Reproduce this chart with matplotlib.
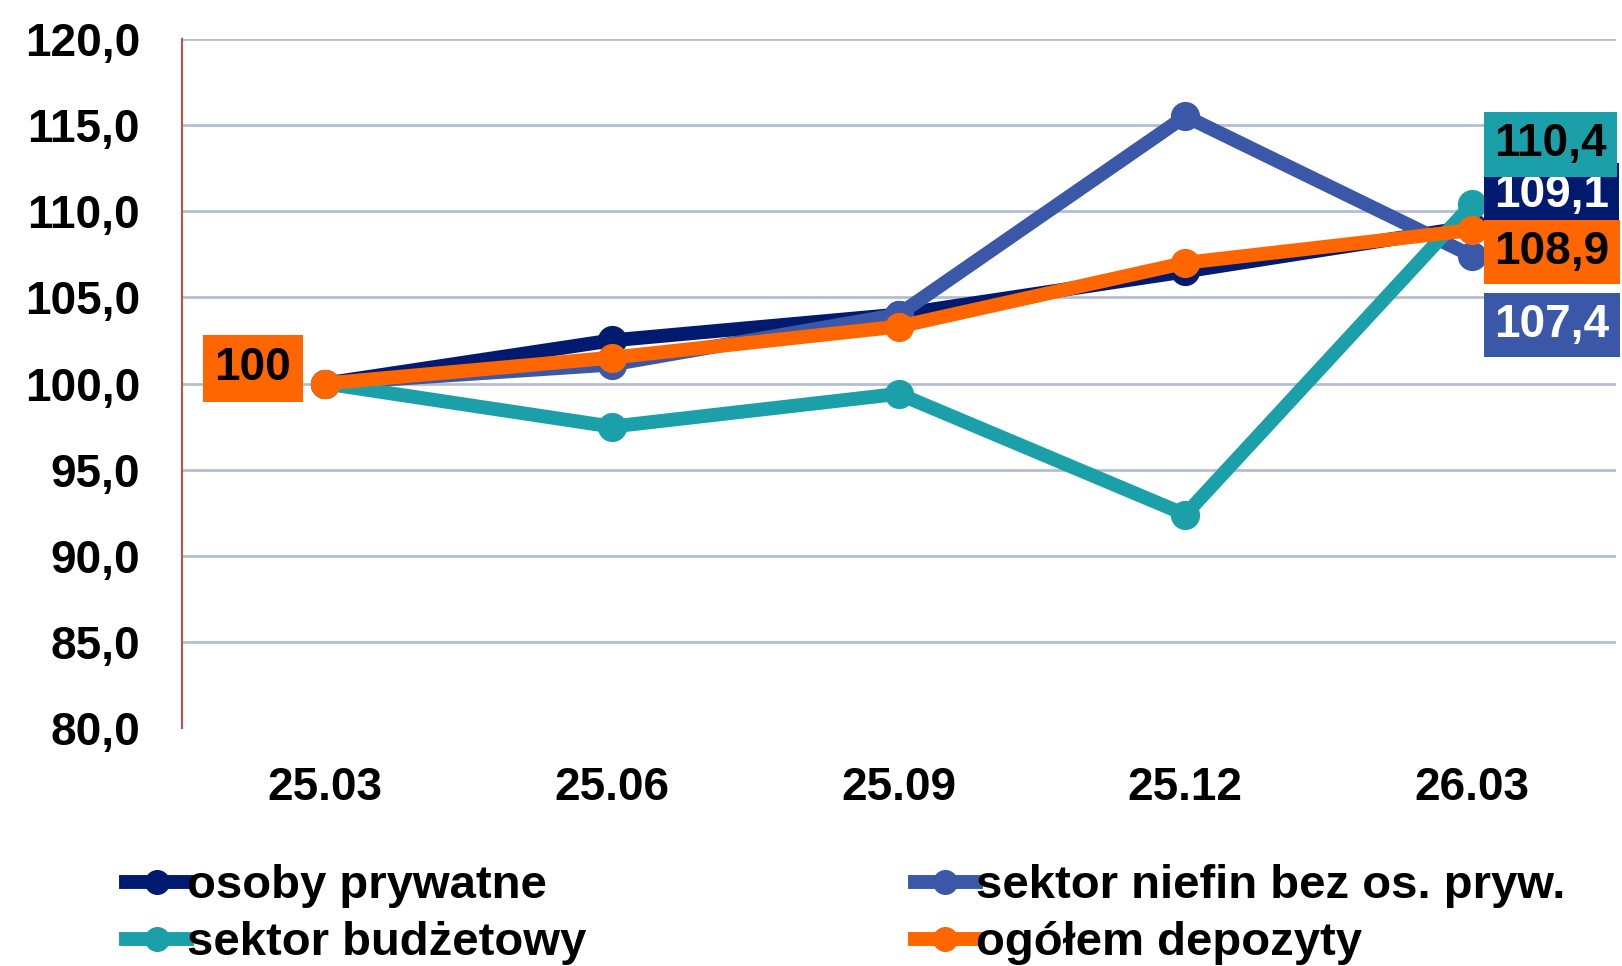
import matplotlib
matplotlib.use("Agg")
import matplotlib.pyplot as plt
import numpy as np

plt.rcParams["font.family"] = ["Liberation Sans", "DejaVu Sans"]
plt.rcParams["font.weight"] = "bold"

categories = ["25.03", "25.06", "25.09", "25.12", "26.03"]
osoby_prywatne = [100.0, 102.5, 104.0, 106.5, 109.1]
sektor_niefin = [100.0, 101.1, 104.0, 115.5, 107.4]
sektor_budzetowy = [100.0, 97.5, 99.4, 92.4, 110.4]
ogolem_depozyty = [100.0, 101.5, 103.3, 107.0, 108.9]

series = [
    ("osoby prywatne", osoby_prywatne, "#001A70", "white", 23),
    ("sektor niefin bez os. pryw.", sektor_niefin, "#3A57A8", "white", -50),
    ("sektor budżetowy", sektor_budzetowy, "#1BA0AA", "black", 43),
    ("ogółem depozyty", ogolem_depozyty, "#FF6600", "black", -16),
]

FS = 33

fig = plt.figure(figsize=(16.22, 9.66), dpi=100)
ax = fig.add_axes([0.112, 0.246, 0.884, 0.714])

x = np.arange(len(categories)) + 0.5
handles = []
for name, vals, color, txt_color, dy in series:
    line, = ax.plot(x, vals, color=color, lw=10, marker="o", ms=20,
                    solid_joinstyle="round", label=name, clip_on=False)
    handles.append(line)
    ax.annotate(f"{vals[-1]:.1f}".replace(".", ","), xy=(x[-1], vals[-1]),
                xytext=(16, dy), textcoords="offset points",
                ha="left", va="center", fontsize=FS, fontweight="bold",
                color=txt_color, annotation_clip=False,
                bbox=dict(boxstyle="square,pad=0.22", fc=color, ec="none"))

ax.annotate("100", xy=(x[0], ogolem_depozyty[0]), xytext=(-52, 11),
            textcoords="offset points", ha="center", va="center",
            fontsize=FS, fontweight="bold", color="black",
            bbox=dict(boxstyle="square,pad=0.25", fc="#FF6600", ec="none"))

ax.set_xlim(0, len(categories))
ax.set_ylim(80, 120)
ax.set_yticks(np.arange(80, 121, 5))
ax.set_yticklabels([f"{v:.1f}".replace(".", ",") for v in np.arange(80, 121, 5)])
ax.set_xticks(x)
ax.set_xticklabels(categories)
ax.tick_params(axis="both", length=0, labelsize=FS)
ax.tick_params(axis="y", pad=30)
ax.tick_params(axis="x", pad=27)
for lab in ax.get_xticklabels() + ax.get_yticklabels():
    lab.set_fontweight("bold")

for yv in np.arange(85, 121, 5):
    ax.axhline(yv, color="#B4BED2", lw=2, zorder=0)

for s in ["top", "right", "bottom"]:
    ax.spines[s].set_visible(False)
ax.spines["left"].set_color("#C0504D")
ax.spines["left"].set_linewidth(1.5)

# column-major fill: row 1 = osoby / niefin, row 2 = budzetowy / ogolem
order = [0, 2, 1, 3]
leg = fig.legend([handles[i] for i in order], [series[i][0] for i in order],
                 loc="upper left", bbox_to_anchor=(0.066, 0.125), ncol=2,
                 frameon=False, fontsize=34, handlelength=1.3,
                 handletextpad=0.0, columnspacing=6.95, labelspacing=0.28,
                 borderaxespad=0, markerscale=0.85)
for t in leg.get_texts():
    t.set_fontweight("bold")

fig.savefig("out.png", dpi=100)
